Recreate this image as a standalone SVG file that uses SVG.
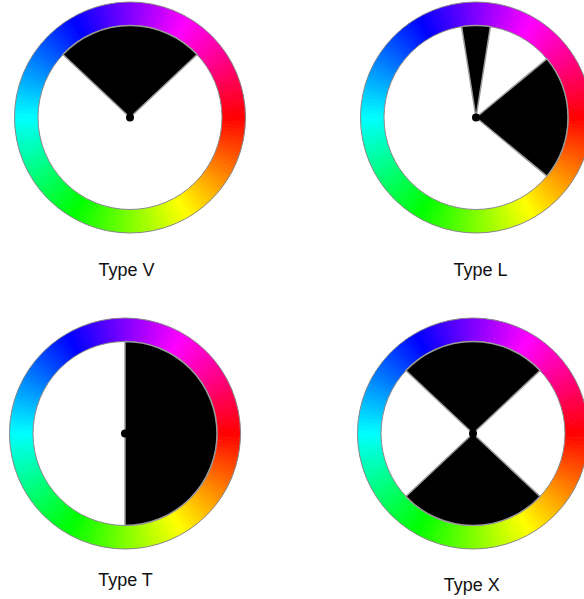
<svg xmlns="http://www.w3.org/2000/svg" xmlns:xlink="http://www.w3.org/1999/xlink" width="584" height="599" viewBox="0 0 584 599">
<style>
.lbl{font-family:"Liberation Sans",Arial,sans-serif;font-size:18px;fill:#111;text-anchor:middle}
.sec{fill:#000;stroke:#999;stroke-width:1.5;stroke-linejoin:round}
.edge{fill:none;stroke:#888;stroke-width:1}
.dot{fill:#000}
</style>
<defs>
<circle id="s" r="103.75" fill="none" stroke-width="23.5" stroke-dasharray="4.4 700"/>
<g id="ring">
<use href="#s" transform="rotate(0)" stroke="hsl(1,100%,50%)"/>
<use href="#s" transform="rotate(2)" stroke="hsl(3,100%,50%)"/>
<use href="#s" transform="rotate(4)" stroke="hsl(5,100%,50%)"/>
<use href="#s" transform="rotate(6)" stroke="hsl(7,100%,50%)"/>
<use href="#s" transform="rotate(8)" stroke="hsl(9,100%,50%)"/>
<use href="#s" transform="rotate(10)" stroke="hsl(11,100%,50%)"/>
<use href="#s" transform="rotate(12)" stroke="hsl(13,100%,50%)"/>
<use href="#s" transform="rotate(14)" stroke="hsl(15,100%,50%)"/>
<use href="#s" transform="rotate(16)" stroke="hsl(17,100%,50%)"/>
<use href="#s" transform="rotate(18)" stroke="hsl(19,100%,50%)"/>
<use href="#s" transform="rotate(20)" stroke="hsl(21,100%,50%)"/>
<use href="#s" transform="rotate(22)" stroke="hsl(23,100%,50%)"/>
<use href="#s" transform="rotate(24)" stroke="hsl(25,100%,50%)"/>
<use href="#s" transform="rotate(26)" stroke="hsl(27,100%,50%)"/>
<use href="#s" transform="rotate(28)" stroke="hsl(29,100%,50%)"/>
<use href="#s" transform="rotate(30)" stroke="hsl(31,100%,50%)"/>
<use href="#s" transform="rotate(32)" stroke="hsl(33,100%,50%)"/>
<use href="#s" transform="rotate(34)" stroke="hsl(35,100%,50%)"/>
<use href="#s" transform="rotate(36)" stroke="hsl(37,100%,50%)"/>
<use href="#s" transform="rotate(38)" stroke="hsl(39,100%,50%)"/>
<use href="#s" transform="rotate(40)" stroke="hsl(41,100%,50%)"/>
<use href="#s" transform="rotate(42)" stroke="hsl(43,100%,50%)"/>
<use href="#s" transform="rotate(44)" stroke="hsl(45,100%,50%)"/>
<use href="#s" transform="rotate(46)" stroke="hsl(47,100%,50%)"/>
<use href="#s" transform="rotate(48)" stroke="hsl(49,100%,50%)"/>
<use href="#s" transform="rotate(50)" stroke="hsl(51,100%,50%)"/>
<use href="#s" transform="rotate(52)" stroke="hsl(53,100%,50%)"/>
<use href="#s" transform="rotate(54)" stroke="hsl(55,100%,50%)"/>
<use href="#s" transform="rotate(56)" stroke="hsl(57,100%,50%)"/>
<use href="#s" transform="rotate(58)" stroke="hsl(59,100%,50%)"/>
<use href="#s" transform="rotate(60)" stroke="hsl(61,100%,50%)"/>
<use href="#s" transform="rotate(62)" stroke="hsl(63,100%,50%)"/>
<use href="#s" transform="rotate(64)" stroke="hsl(65,100%,50%)"/>
<use href="#s" transform="rotate(66)" stroke="hsl(67,100%,50%)"/>
<use href="#s" transform="rotate(68)" stroke="hsl(69,100%,50%)"/>
<use href="#s" transform="rotate(70)" stroke="hsl(71,100%,50%)"/>
<use href="#s" transform="rotate(72)" stroke="hsl(73,100%,50%)"/>
<use href="#s" transform="rotate(74)" stroke="hsl(75,100%,50%)"/>
<use href="#s" transform="rotate(76)" stroke="hsl(77,100%,50%)"/>
<use href="#s" transform="rotate(78)" stroke="hsl(79,100%,50%)"/>
<use href="#s" transform="rotate(80)" stroke="hsl(81,100%,50%)"/>
<use href="#s" transform="rotate(82)" stroke="hsl(83,100%,50%)"/>
<use href="#s" transform="rotate(84)" stroke="hsl(85,100%,50%)"/>
<use href="#s" transform="rotate(86)" stroke="hsl(87,100%,50%)"/>
<use href="#s" transform="rotate(88)" stroke="hsl(89,100%,50%)"/>
<use href="#s" transform="rotate(90)" stroke="hsl(91,100%,50%)"/>
<use href="#s" transform="rotate(92)" stroke="hsl(93,100%,50%)"/>
<use href="#s" transform="rotate(94)" stroke="hsl(95,100%,50%)"/>
<use href="#s" transform="rotate(96)" stroke="hsl(97,100%,50%)"/>
<use href="#s" transform="rotate(98)" stroke="hsl(99,100%,50%)"/>
<use href="#s" transform="rotate(100)" stroke="hsl(101,100%,50%)"/>
<use href="#s" transform="rotate(102)" stroke="hsl(103,100%,50%)"/>
<use href="#s" transform="rotate(104)" stroke="hsl(105,100%,50%)"/>
<use href="#s" transform="rotate(106)" stroke="hsl(107,100%,50%)"/>
<use href="#s" transform="rotate(108)" stroke="hsl(109,100%,50%)"/>
<use href="#s" transform="rotate(110)" stroke="hsl(111,100%,50%)"/>
<use href="#s" transform="rotate(112)" stroke="hsl(113,100%,50%)"/>
<use href="#s" transform="rotate(114)" stroke="hsl(115,100%,50%)"/>
<use href="#s" transform="rotate(116)" stroke="hsl(117,100%,50%)"/>
<use href="#s" transform="rotate(118)" stroke="hsl(119,100%,50%)"/>
<use href="#s" transform="rotate(120)" stroke="hsl(121,100%,50%)"/>
<use href="#s" transform="rotate(122)" stroke="hsl(123,100%,50%)"/>
<use href="#s" transform="rotate(124)" stroke="hsl(125,100%,50%)"/>
<use href="#s" transform="rotate(126)" stroke="hsl(127,100%,50%)"/>
<use href="#s" transform="rotate(128)" stroke="hsl(129,100%,50%)"/>
<use href="#s" transform="rotate(130)" stroke="hsl(131,100%,50%)"/>
<use href="#s" transform="rotate(132)" stroke="hsl(133,100%,50%)"/>
<use href="#s" transform="rotate(134)" stroke="hsl(135,100%,50%)"/>
<use href="#s" transform="rotate(136)" stroke="hsl(137,100%,50%)"/>
<use href="#s" transform="rotate(138)" stroke="hsl(139,100%,50%)"/>
<use href="#s" transform="rotate(140)" stroke="hsl(141,100%,50%)"/>
<use href="#s" transform="rotate(142)" stroke="hsl(143,100%,50%)"/>
<use href="#s" transform="rotate(144)" stroke="hsl(145,100%,50%)"/>
<use href="#s" transform="rotate(146)" stroke="hsl(147,100%,50%)"/>
<use href="#s" transform="rotate(148)" stroke="hsl(149,100%,50%)"/>
<use href="#s" transform="rotate(150)" stroke="hsl(151,100%,50%)"/>
<use href="#s" transform="rotate(152)" stroke="hsl(153,100%,50%)"/>
<use href="#s" transform="rotate(154)" stroke="hsl(155,100%,50%)"/>
<use href="#s" transform="rotate(156)" stroke="hsl(157,100%,50%)"/>
<use href="#s" transform="rotate(158)" stroke="hsl(159,100%,50%)"/>
<use href="#s" transform="rotate(160)" stroke="hsl(161,100%,50%)"/>
<use href="#s" transform="rotate(162)" stroke="hsl(163,100%,50%)"/>
<use href="#s" transform="rotate(164)" stroke="hsl(165,100%,50%)"/>
<use href="#s" transform="rotate(166)" stroke="hsl(167,100%,50%)"/>
<use href="#s" transform="rotate(168)" stroke="hsl(169,100%,50%)"/>
<use href="#s" transform="rotate(170)" stroke="hsl(171,100%,50%)"/>
<use href="#s" transform="rotate(172)" stroke="hsl(173,100%,50%)"/>
<use href="#s" transform="rotate(174)" stroke="hsl(175,100%,50%)"/>
<use href="#s" transform="rotate(176)" stroke="hsl(177,100%,50%)"/>
<use href="#s" transform="rotate(178)" stroke="hsl(179,100%,50%)"/>
<use href="#s" transform="rotate(180)" stroke="hsl(181,100%,50%)"/>
<use href="#s" transform="rotate(182)" stroke="hsl(183,100%,50%)"/>
<use href="#s" transform="rotate(184)" stroke="hsl(185,100%,50%)"/>
<use href="#s" transform="rotate(186)" stroke="hsl(187,100%,50%)"/>
<use href="#s" transform="rotate(188)" stroke="hsl(189,100%,50%)"/>
<use href="#s" transform="rotate(190)" stroke="hsl(191,100%,50%)"/>
<use href="#s" transform="rotate(192)" stroke="hsl(193,100%,50%)"/>
<use href="#s" transform="rotate(194)" stroke="hsl(195,100%,50%)"/>
<use href="#s" transform="rotate(196)" stroke="hsl(197,100%,50%)"/>
<use href="#s" transform="rotate(198)" stroke="hsl(199,100%,50%)"/>
<use href="#s" transform="rotate(200)" stroke="hsl(201,100%,50%)"/>
<use href="#s" transform="rotate(202)" stroke="hsl(203,100%,50%)"/>
<use href="#s" transform="rotate(204)" stroke="hsl(205,100%,50%)"/>
<use href="#s" transform="rotate(206)" stroke="hsl(207,100%,50%)"/>
<use href="#s" transform="rotate(208)" stroke="hsl(209,100%,50%)"/>
<use href="#s" transform="rotate(210)" stroke="hsl(211,100%,50%)"/>
<use href="#s" transform="rotate(212)" stroke="hsl(213,100%,50%)"/>
<use href="#s" transform="rotate(214)" stroke="hsl(215,100%,50%)"/>
<use href="#s" transform="rotate(216)" stroke="hsl(217,100%,50%)"/>
<use href="#s" transform="rotate(218)" stroke="hsl(219,100%,50%)"/>
<use href="#s" transform="rotate(220)" stroke="hsl(221,100%,50%)"/>
<use href="#s" transform="rotate(222)" stroke="hsl(223,100%,50%)"/>
<use href="#s" transform="rotate(224)" stroke="hsl(225,100%,50%)"/>
<use href="#s" transform="rotate(226)" stroke="hsl(227,100%,50%)"/>
<use href="#s" transform="rotate(228)" stroke="hsl(229,100%,50%)"/>
<use href="#s" transform="rotate(230)" stroke="hsl(231,100%,50%)"/>
<use href="#s" transform="rotate(232)" stroke="hsl(233,100%,50%)"/>
<use href="#s" transform="rotate(234)" stroke="hsl(235,100%,50%)"/>
<use href="#s" transform="rotate(236)" stroke="hsl(237,100%,50%)"/>
<use href="#s" transform="rotate(238)" stroke="hsl(239,100%,50%)"/>
<use href="#s" transform="rotate(240)" stroke="hsl(241,100%,50%)"/>
<use href="#s" transform="rotate(242)" stroke="hsl(243,100%,50%)"/>
<use href="#s" transform="rotate(244)" stroke="hsl(245,100%,50%)"/>
<use href="#s" transform="rotate(246)" stroke="hsl(247,100%,50%)"/>
<use href="#s" transform="rotate(248)" stroke="hsl(249,100%,50%)"/>
<use href="#s" transform="rotate(250)" stroke="hsl(251,100%,50%)"/>
<use href="#s" transform="rotate(252)" stroke="hsl(253,100%,50%)"/>
<use href="#s" transform="rotate(254)" stroke="hsl(255,100%,50%)"/>
<use href="#s" transform="rotate(256)" stroke="hsl(257,100%,50%)"/>
<use href="#s" transform="rotate(258)" stroke="hsl(259,100%,50%)"/>
<use href="#s" transform="rotate(260)" stroke="hsl(261,100%,50%)"/>
<use href="#s" transform="rotate(262)" stroke="hsl(263,100%,50%)"/>
<use href="#s" transform="rotate(264)" stroke="hsl(265,100%,50%)"/>
<use href="#s" transform="rotate(266)" stroke="hsl(267,100%,50%)"/>
<use href="#s" transform="rotate(268)" stroke="hsl(269,100%,50%)"/>
<use href="#s" transform="rotate(270)" stroke="hsl(271,100%,50%)"/>
<use href="#s" transform="rotate(272)" stroke="hsl(273,100%,50%)"/>
<use href="#s" transform="rotate(274)" stroke="hsl(275,100%,50%)"/>
<use href="#s" transform="rotate(276)" stroke="hsl(277,100%,50%)"/>
<use href="#s" transform="rotate(278)" stroke="hsl(279,100%,50%)"/>
<use href="#s" transform="rotate(280)" stroke="hsl(281,100%,50%)"/>
<use href="#s" transform="rotate(282)" stroke="hsl(283,100%,50%)"/>
<use href="#s" transform="rotate(284)" stroke="hsl(285,100%,50%)"/>
<use href="#s" transform="rotate(286)" stroke="hsl(287,100%,50%)"/>
<use href="#s" transform="rotate(288)" stroke="hsl(289,100%,50%)"/>
<use href="#s" transform="rotate(290)" stroke="hsl(291,100%,50%)"/>
<use href="#s" transform="rotate(292)" stroke="hsl(293,100%,50%)"/>
<use href="#s" transform="rotate(294)" stroke="hsl(295,100%,50%)"/>
<use href="#s" transform="rotate(296)" stroke="hsl(297,100%,50%)"/>
<use href="#s" transform="rotate(298)" stroke="hsl(299,100%,50%)"/>
<use href="#s" transform="rotate(300)" stroke="hsl(301,100%,50%)"/>
<use href="#s" transform="rotate(302)" stroke="hsl(303,100%,50%)"/>
<use href="#s" transform="rotate(304)" stroke="hsl(305,100%,50%)"/>
<use href="#s" transform="rotate(306)" stroke="hsl(307,100%,50%)"/>
<use href="#s" transform="rotate(308)" stroke="hsl(309,100%,50%)"/>
<use href="#s" transform="rotate(310)" stroke="hsl(311,100%,50%)"/>
<use href="#s" transform="rotate(312)" stroke="hsl(313,100%,50%)"/>
<use href="#s" transform="rotate(314)" stroke="hsl(315,100%,50%)"/>
<use href="#s" transform="rotate(316)" stroke="hsl(317,100%,50%)"/>
<use href="#s" transform="rotate(318)" stroke="hsl(319,100%,50%)"/>
<use href="#s" transform="rotate(320)" stroke="hsl(321,100%,50%)"/>
<use href="#s" transform="rotate(322)" stroke="hsl(323,100%,50%)"/>
<use href="#s" transform="rotate(324)" stroke="hsl(325,100%,50%)"/>
<use href="#s" transform="rotate(326)" stroke="hsl(327,100%,50%)"/>
<use href="#s" transform="rotate(328)" stroke="hsl(329,100%,50%)"/>
<use href="#s" transform="rotate(330)" stroke="hsl(331,100%,50%)"/>
<use href="#s" transform="rotate(332)" stroke="hsl(333,100%,50%)"/>
<use href="#s" transform="rotate(334)" stroke="hsl(335,100%,50%)"/>
<use href="#s" transform="rotate(336)" stroke="hsl(337,100%,50%)"/>
<use href="#s" transform="rotate(338)" stroke="hsl(339,100%,50%)"/>
<use href="#s" transform="rotate(340)" stroke="hsl(341,100%,50%)"/>
<use href="#s" transform="rotate(342)" stroke="hsl(343,100%,50%)"/>
<use href="#s" transform="rotate(344)" stroke="hsl(345,100%,50%)"/>
<use href="#s" transform="rotate(346)" stroke="hsl(347,100%,50%)"/>
<use href="#s" transform="rotate(348)" stroke="hsl(349,100%,50%)"/>
<use href="#s" transform="rotate(350)" stroke="hsl(351,100%,50%)"/>
<use href="#s" transform="rotate(352)" stroke="hsl(353,100%,50%)"/>
<use href="#s" transform="rotate(354)" stroke="hsl(355,100%,50%)"/>
<use href="#s" transform="rotate(356)" stroke="hsl(357,100%,50%)"/>
<use href="#s" transform="rotate(358)" stroke="hsl(359,100%,50%)"/>
<circle class="edge" r="115.5"/>
<circle class="edge" r="92"/>
</g>
</defs>
<rect width="584" height="599" fill="#fff"/>

<g id="wheel-v" transform="translate(130,117.5)">
<use href="#ring"/>
<path class="sec" d="M0,0 L-67.07,-62.97 A92,92 0 0 1 67.07,-62.97 Z"/>
<circle class="dot" r="4"/>
</g>

<g id="wheel-l" transform="translate(476,117.5)">
<use href="#ring"/>
<path class="sec" d="M0,0 L-14.39,-90.87 A92,92 0 0 1 14.39,-90.87 Z"/>
<path class="sec" d="M0,0 L70.89,-58.64 A92,92 0 0 1 70.89,58.64 Z"/>
<circle class="dot" r="4"/>
</g>

<g id="wheel-t" transform="translate(125,433.5)">
<use href="#ring"/>
<path class="sec" d="M0,-92 A92,92 0 0 1 0,92 Z"/>
<circle class="dot" r="4"/>
</g>

<g id="wheel-x" transform="translate(473,433.5)">
<use href="#ring"/>
<path class="sec" d="M0,0 L-67.07,-62.97 A92,92 0 0 1 67.07,-62.97 Z"/>
<path class="sec" d="M0,0 L67.07,62.97 A92,92 0 0 1 -67.07,62.97 Z"/>
<circle class="dot" r="4"/>
</g>

<g id="labels">
<text class="lbl" x="126.4" y="276">Type V</text>
<text class="lbl" x="480.5" y="276">Type L</text>
<text class="lbl" x="125.5" y="586">Type T</text>
<text class="lbl" x="471.7" y="591">Type X</text>
</g>
</svg>
